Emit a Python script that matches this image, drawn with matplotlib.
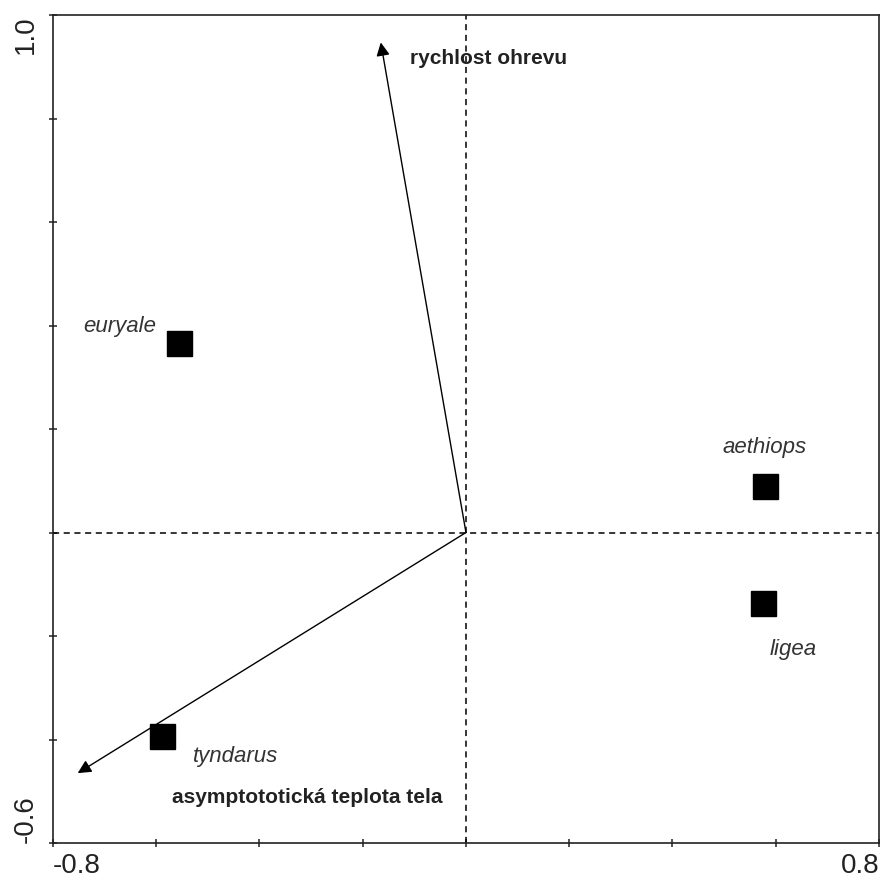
import matplotlib
matplotlib.use("Agg")
import matplotlib.pyplot as plt

# species scores
species = ["euryale", "aethiops", "ligea", "tyndarus"]
sp_x = [-0.556, 0.579, 0.575, -0.589]
sp_y = [0.366, 0.090, -0.136, -0.393]
# label anchors (left edge, vertical centre)
sp_lx = [-0.742, 0.496, 0.589, -0.529]
sp_ly = [0.399, 0.165, -0.227, -0.432]

# environmental variables (arrows)
env = ["rychlost ohrevu", "asymptototická teplota tela"]
env_x = [-0.165, -0.752]
env_y = [0.947, -0.465]
env_lx = [-0.108, -0.569]
env_ly = [0.915, -0.513]

plt.rcParams['font.family'] = ['Liberation Sans', 'DejaVu Sans']

fig = plt.figure(figsize=(8.82, 8.83), dpi=100)
ax = fig.add_axes([0.060, 0.0453, 0.9366, 0.9377])
ax.set_xlim(-0.8, 0.8)
ax.set_ylim(-0.6, 1.0)

ax.axhline(0, color='black', lw=1.1, ls=(0, (4, 3)))
ax.axvline(0, color='black', lw=1.1, ls=(0, (4, 3)))

for x, y in zip(env_x, env_y):
    ax.annotate("", xy=(x, y), xytext=(0, 0),
                arrowprops=dict(arrowstyle='-|>', color='black', lw=1.0,
                                mutation_scale=20, shrinkA=0, shrinkB=0))

ax.plot(sp_x, sp_y, 's', color='black', markersize=18, zorder=3)

for name, x, y in zip(species, sp_lx, sp_ly):
    ax.text(x, y, name, fontsize=16, style='italic', color='#333333',
            ha='left', va='center')
for name, x, y in zip(env, env_lx, env_ly):
    ax.text(x, y, name, fontsize=15, fontweight='bold', color='#222222',
            ha='left', va='center')

xt = [-0.8, -0.6, -0.4, -0.2, 0.0, 0.2, 0.4, 0.6, 0.8]
yt = [-0.6, -0.4, -0.2, 0.0, 0.2, 0.4, 0.6, 0.8, 1.0]
ax.set_xticks(xt)
ax.set_xticklabels(["-0.8"] + [""] * 7 + ["0.8"])
ax.set_yticks(yt)
ax.set_yticklabels(["-0.6"] + [""] * 7 + ["1.0"], rotation=90)
ax.tick_params(direction='inout', length=6, width=1.1, labelsize=20,
               colors='#222222')
ax.tick_params(axis='x', pad=4.5)
ax.tick_params(axis='y', pad=7)
ax.get_xticklabels()[0].set_ha('left')
ax.get_xticklabels()[-1].set_ha('right')
ax.get_yticklabels()[0].set_va('bottom')
ax.get_yticklabels()[-1].set_va('top')

for s in ax.spines.values():
    s.set_linewidth(1.2)
    s.set_color('#222222')

fig.savefig("out.png", dpi=100)
